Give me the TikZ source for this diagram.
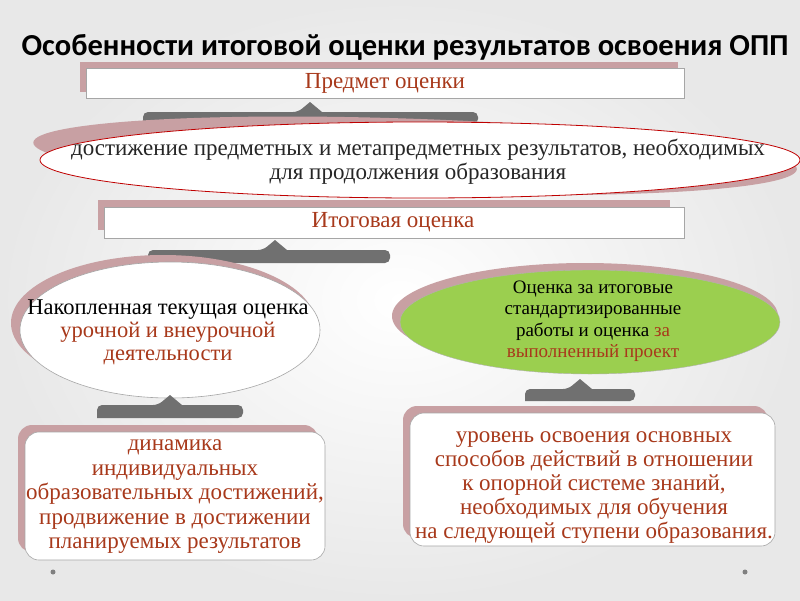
\documentclass[tikz,border=0pt]{standalone}
\usepackage{fontspec}
\setmainfont{Liberation Serif}
\newfontfamily\ttl{Carlito}
\definecolor{brn}{HTML}{A8391B}
\definecolor{rose}{HTML}{C8A0A3}
\definecolor{grn}{HTML}{9BCF4F}
\definecolor{brc}{HTML}{707070}
\tikzset{
 shad/.style={fill=rose,draw=none},
 front/.style={fill=white,draw=gray!70,line width=0.6pt},
 txt/.style={font=\fontsize{23}{24}\selectfont,align=center,text=brn,inner sep=0pt},
}
\newcommand{\brc}[5]{% x1 x2 yt yb peakx
\fill[brc,rounded corners=5pt] (#1,#4) -- (#1,#3) -- (#5-12,#3) [sharp corners]-- (#5,#3-10) -- (#5+12,#3) [rounded corners=5pt]-- (#2,#3) -- (#2,#4) [sharp corners]-- cycle;}
\begin{document}
\begin{tikzpicture}[x=1pt,y=-1pt]
\shade[inner color=white,outer color=gray!18] (0,0) rectangle (800,600);
\useasboundingbox (0,0) rectangle (800,600);
\node (title) [font=\ttl\bfseries\fontsize{30.5}{34}\selectfont,inner sep=0pt] at (405,47) {Особенности итоговой оценки результатов освоения ОПП};
% box 1
\fill[shad] (80,62) rectangle (678,92);
\draw[front] (86,68) rectangle (684,98);
\node (b1) [txt] at (385,83) {Предмет оценки};
\brc{143}{478}{112}{124}{310}{}
% ellipse 1
\fill[shad,rotate around={-2:(420,158)}] (415,156) ellipse (382 and 37);
\draw[front,draw=red!75!black,line width=0.8pt] (420,160) ellipse (380 and 38);
\node (e1) [txt,text=black!85] at (418,162) {достижение предметных и метапредметных результатов, необходимых\\для продолжения образования};
% box 2
\fill[shad] (98,200) rectangle (670,230);
\draw[front] (104,207) rectangle (684,238);
\node (b2) [txt] at (393,222) {Итоговая оценка};
\brc{148}{390}{250}{263}{275}{}
% left ellipse
\fill[shad] (163,323) ellipse (152 and 68);
\draw[front] (170,330) ellipse (150 and 68);
\node (e2) [txt,text=black,font=\fontsize{22.5}{23}\selectfont] at (168,332) {Накопленная текущая оценка\\\textcolor{brn}{урочной и внеурочной}\\\textcolor{brn}{деятельности}};
% right ellipse
\fill[shad] (585,316) ellipse (193 and 53);
\draw[fill=grn,draw=gray!60] (590,322) ellipse (190 and 52);
\node (e3) [font=\fontsize{19}{21.5}\selectfont,align=center,inner sep=0pt] at (593,321) {Оценка за итоговые\\стандартизированные\\работы и оценка \textcolor{brn}{за}\\\textcolor{brn}{выполненный проект}};
\brc{97}{243}{405}{418}{170}{}
\brc{525}{635}{389}{401}{580}{}
% bottom boxes
\fill[shad,rounded corners=14pt] (18,425) rectangle (318,552);
\draw[front,rounded corners=14pt] (25,432) rectangle (325,560);
\node (l) [txt,font=\fontsize{23}{24.5}\selectfont] at (175,497) {динамика\\индивидуальных\\образовательных достижений,\\продвижение в достижении\\планируемых результатов};
\fill[shad,rounded corners=14pt] (403,406) rectangle (768,538);
\draw[front,rounded corners=14pt] (410,413) rectangle (775,546);
\node (r) [txt,font=\fontsize{23}{24}\selectfont] at (594,488) {уровень освоения основных\\способов действий в отношении\\к опорной системе знаний,\\необходимых для обучения\\на следующей ступени образования.};
\fill[gray] (53,572) circle (2.5);
\fill[gray] (745,572) circle (2.5);
\end{tikzpicture}
\end{document}
